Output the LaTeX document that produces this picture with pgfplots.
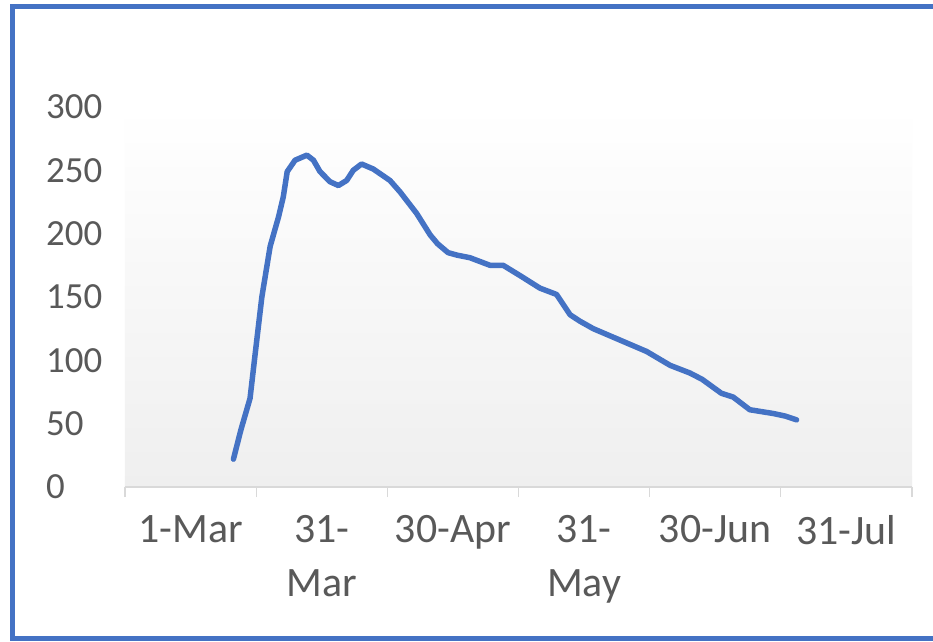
\documentclass[border=0pt]{standalone}
\usepackage{pgfplots}
\pgfplotsset{compat=1.18}
\usepackage{fontspec}
\setmainfont{Carlito}
\definecolor{txt}{HTML}{595959}
\definecolor{axgray}{HTML}{D9D9D9}
\definecolor{lineblue}{HTML}{4472C4}
\definecolor{bgbot}{HTML}{EFEFEF}
\begin{document}
\begin{tikzpicture}
\useasboundingbox (-125bp,-155bp) rectangle (808bp,487bp);
\fill[white] (-125bp,-155bp) rectangle (808bp,487bp);
\begin{axis}[
  at={(0,0)}, anchor=south west,
  scale only axis, width=787bp, height=380bp,
  xmin=0, xmax=180, ymin=0, ymax=300,
  axis lines*=left,
  y axis line style={draw=none},
  x axis line style={draw=axgray, line width=1.2bp},
  axis background/.style={shade, top color=white, bottom color=bgbot},
  xtick={0,30,...,180},
  x tick label as interval,
  xticklabels={1-Mar,{31-\\Mar},30-Apr,{31-\\May},30-Jun,31-Jul},
  ytick={0,50,...,300},
  tick align=outside,
  x tick style={draw=axgray, line width=1.2bp},
  major tick length=10bp,
  y tick style={draw=none},
  /pgf/number format/assume math mode=true,
  yticklabel style={font=\fontsize{37}{44}\selectfont, text=txt, anchor=west, inner sep=0pt, xshift=-69bp},
  xticklabel style={font=\fontsize{42}{54}\selectfont, text=txt, align=center, anchor=north, inner sep=0pt, yshift=-18bp},
]
\addplot[lineblue, line width=5.5bp, line join=round, line cap=round] coordinates {
(24.8,22)(26.5,45)(28.6,70)(29.7,103)(31.3,150)(33.2,190)(35.1,213)(36.2,229)
(37.1,249)(38.9,258)(41.6,262)(43.1,258)(44.6,249)(46.9,241)(48.8,238)(50.7,242)
(52.2,250)(54.1,255)(56.8,251)(60.6,242)(62.9,233)(66.7,216)(69.8,199)(71.5,192)
(73.9,185)(76,183)(78.9,181)(83.5,175)(86.5,175)(90.3,167)(94.9,157)(98.7,152)
(101.8,136)(104,131)(107.1,125)(113.2,116)(119.3,107)(124.7,96)(129.2,90)(132,85)
(136.4,74)(139.1,71)(142.9,61)(148.3,58)(151,56)(153.6,53)
};
\end{axis}
\draw[lineblue, line width=5bp] (820bp,480.5bp) -- (-112bp,480.5bp) -- (-112bp,-151.5bp) -- (820bp,-151.5bp);
\end{tikzpicture}
\end{document}
